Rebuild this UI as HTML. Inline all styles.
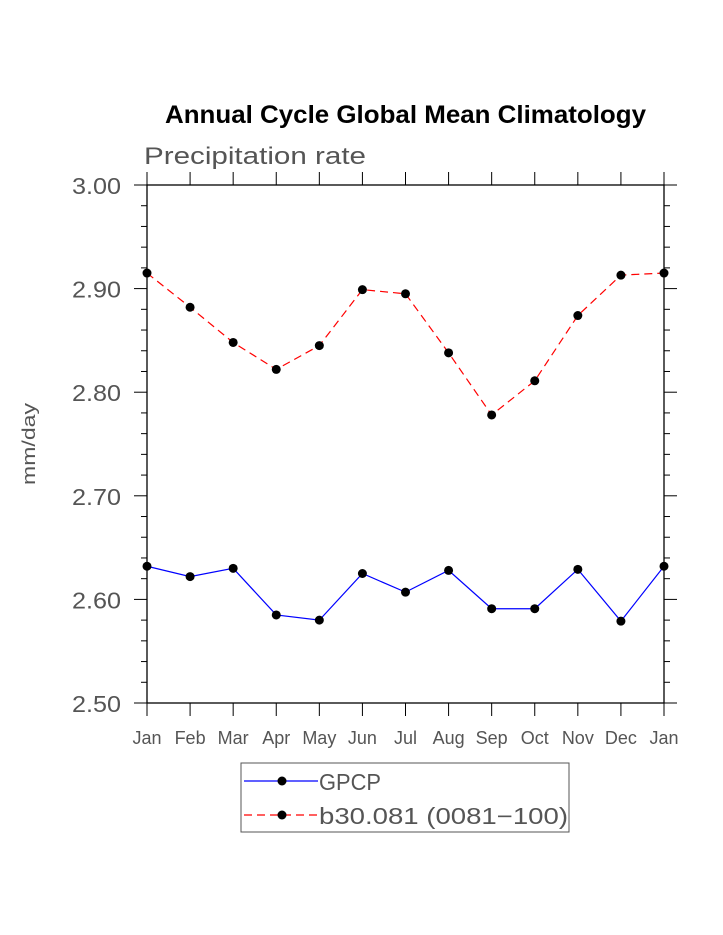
<!DOCTYPE html>
<html><head><meta charset="utf-8"><style>body{margin:0;background:#fff}svg{display:block}</style></head>
<body>
<svg width="723" height="935" xmlns="http://www.w3.org/2000/svg" font-family="Liberation Sans, sans-serif">
<g id="chart"></g>
</svg>
<script>
const months = ["Jan","Feb","Mar","Apr","May","Jun","Jul","Aug","Sep","Oct","Nov","Dec","Jan"];
const gpcp = [2.632,2.622,2.630,2.585,2.580,2.625,2.607,2.628,2.591,2.591,2.629,2.579,2.632];
const model = [2.915,2.882,2.848,2.822,2.845,2.899,2.895,2.838,2.778,2.811,2.874,2.913,2.915];
const yTicks = [2.50,2.60,2.70,2.80,2.90,3.00];
const yLabels = ["2.50","2.60","2.70","2.80","2.90","3.00"];
const NS="http://www.w3.org/2000/svg";
const g=document.getElementById('chart');
const L=147,R=664,T=185,B=703,ymin=2.5,ymax=3.0;
const xs=i=>L+i*(R-L)/(months.length-1);
const ys=v=>B-(v-ymin)/(ymax-ymin)*(B-T);
function mk(t,a,txt){const e=document.createElementNS(NS,t);for(const k in a)e.setAttribute(k,a[k]);if(txt!==undefined)e.textContent=txt;g.appendChild(e);return e;}
let e;
e=mk('text',{x:165,y:123,'font-size':25,'font-weight':'bold',fill:'#000',textLength:481,lengthAdjust:'spacingAndGlyphs'},'Annual Cycle Global Mean Climatology');


e=mk('text',{x:144,y:164,'font-size':24,fill:'#555',textLength:222,lengthAdjust:'spacingAndGlyphs'},'Precipitation rate');


e=mk('text',{x:0,y:0,'font-size':18,fill:'#555','text-anchor':'middle',textLength:82,lengthAdjust:'spacingAndGlyphs',transform:'translate(35,444) rotate(-90)'},'mm/day');


e=mk('rect',{x:L,y:T,width:R-L,height:B-T,fill:'none',stroke:'#000','stroke-width':1.3});


for(let k=0;k<=25;k++){const v=ymin+k*0.02;const y=ys(v);const maj=k%5===0;const len=maj?13:6;
 e=mk('line',{x1:L-len,y1:y,x2:L,y2:y,stroke:'#000','stroke-width':1});
 
 
 e=mk('line',{x1:R,y1:y,x2:R+len,y2:y,stroke:'#000','stroke-width':1});
 
 }
yTicks.forEach((v,i)=>{e=mk('text',{x:72,y:ys(v)+9,'font-size':23,fill:'#555',textLength:49,lengthAdjust:'spacingAndGlyphs'},yLabels[i]);
 
 });
months.forEach((m,i)=>{const x=xs(i);
 e=mk('line',{x1:x,y1:T-13,x2:x,y2:T,stroke:'#000','stroke-width':1});
 
 
 e=mk('line',{x1:x,y1:B,x2:x,y2:B+13,stroke:'#000','stroke-width':1});
 
 
 e=mk('text',{x:x,y:744,'text-anchor':'middle','font-size':18,fill:'#555'},m);
 
 });
function series(vals,color,dash,name){
 e=mk('polyline',{points:vals.map((v,i)=>xs(i)+','+ys(v)).join(' '),fill:'none',stroke:color,'stroke-width':1.2,'stroke-dasharray':dash});
 
 
 vals.forEach((v,i)=>{e=mk('circle',{cx:xs(i),cy:ys(v),r:4.5,fill:'#000'});
  
  });
}
series(model,'#f00','8 5','model');
series(gpcp,'#00f','none','gpcp');
e=mk('rect',{x:241,y:763,width:328,height:69,fill:'#fff',stroke:'#555','stroke-width':1});


e=mk('line',{x1:244,y1:781,x2:318,y2:781,stroke:'#00f','stroke-width':1.2});


e=mk('circle',{cx:282,cy:781,r:4.5,fill:'#000'});


e=mk('text',{x:319,y:790,'font-size':23,fill:'#555',textLength:62,lengthAdjust:'spacingAndGlyphs'},'GPCP');


e=mk('line',{x1:244,y1:815,x2:318,y2:815,stroke:'#f00','stroke-width':1.2,'stroke-dasharray':'8 5'});


e=mk('circle',{cx:282,cy:815,r:4.5,fill:'#000'});


e=mk('text',{x:319,y:824,'font-size':23,fill:'#555',textLength:249,lengthAdjust:'spacingAndGlyphs'},'b30.081 (0081\u2212100)');


</script>
</body></html>
